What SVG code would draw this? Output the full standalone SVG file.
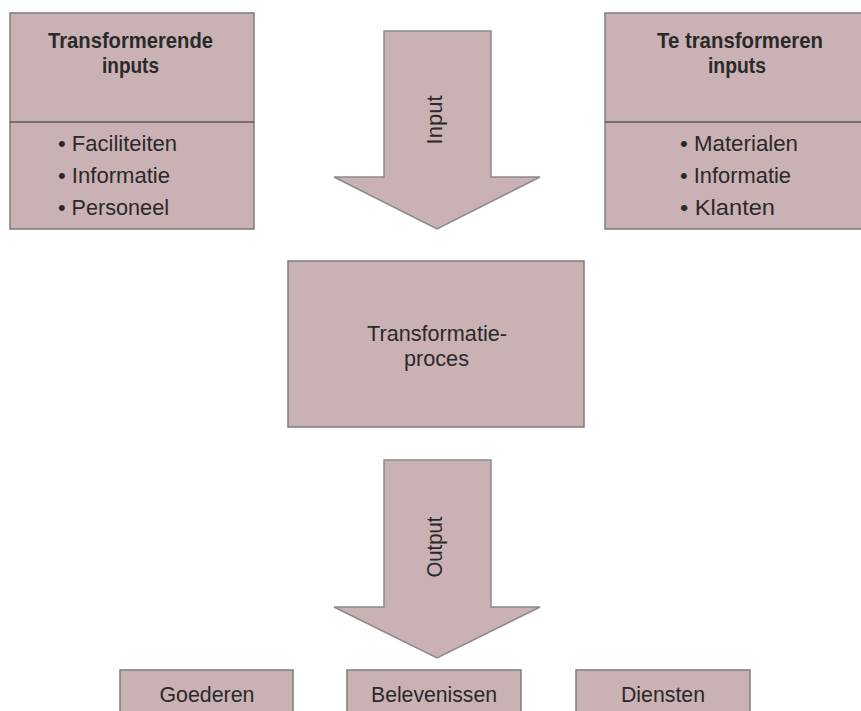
<svg xmlns="http://www.w3.org/2000/svg" width="861" height="711" viewBox="0 0 861 711">
  <style>
    .box { fill: #cab1b3; stroke: #7d7d7d; stroke-width: 1.5; }
    .div { stroke: #5a5a5a; stroke-width: 1.5; }
    .arrow { fill: #cab1b3; stroke: #8a8a8a; stroke-width: 1.5; stroke-linejoin: miter; }
    text { font-family: "Liberation Sans", Arial, sans-serif; font-size: 22px; fill: #2a2a2a; }
    .b { font-weight: bold; }
    .m { text-anchor: middle; }
  </style>
  <rect width="861" height="711" fill="#ffffff"/>

  <g id="connectors">
    <g id="arrow-input">
      <polygon class="arrow" points="384,31 491,31 491,177 540,177 437,229 334,177 384,177"/>
      <text class="m" transform="translate(442,120) rotate(-90)" textLength="49" lengthAdjust="spacingAndGlyphs">Input</text>
    </g>
    <g id="arrow-output">
      <polygon class="arrow" points="384,460 491,460 491,607 540,607 437,658 334,607 384,607"/>
      <text class="m" transform="translate(442,547) rotate(-90)" textLength="61" lengthAdjust="spacingAndGlyphs">Output</text>
    </g>
  </g>

  <g id="transformerende-inputs">
    <rect class="box" x="10" y="13" width="244" height="216"/>
    <line class="div" x1="10" y1="122" x2="254" y2="122"/>
    <text class="b" x="48" y="48" textLength="165" lengthAdjust="spacingAndGlyphs">Transformerende</text>
    <text class="b" x="102" y="73" textLength="57" lengthAdjust="spacingAndGlyphs">inputs</text>
    <text x="58" y="151" textLength="119" lengthAdjust="spacingAndGlyphs">• Faciliteiten</text>
    <text x="58" y="183" textLength="112" lengthAdjust="spacingAndGlyphs">• Informatie</text>
    <text x="58" y="215" textLength="111" lengthAdjust="spacingAndGlyphs">• Personeel</text>
  </g>

  <g id="te-transformeren-inputs">
    <rect class="box" x="605" y="13" width="270" height="216"/>
    <line class="div" x1="605" y1="122" x2="861" y2="122"/>
    <text class="b" x="657" y="48" textLength="166" lengthAdjust="spacingAndGlyphs">Te transformeren</text>
    <text class="b" x="708" y="73" textLength="58" lengthAdjust="spacingAndGlyphs">inputs</text>
    <text x="680" y="151" textLength="118" lengthAdjust="spacingAndGlyphs">• Materialen</text>
    <text x="680" y="183" textLength="111" lengthAdjust="spacingAndGlyphs">• Informatie</text>
    <text x="680" y="215" textLength="95" lengthAdjust="spacingAndGlyphs">• Klanten</text>
  </g>

  <g id="transformatieproces">
    <rect class="box" x="288" y="261" width="296" height="166"/>
    <text x="367" y="341" textLength="140" lengthAdjust="spacingAndGlyphs">Transformatie-</text>
    <text x="404" y="366" textLength="65" lengthAdjust="spacingAndGlyphs">proces</text>
  </g>

  <g id="goederen">
    <rect class="box" x="120" y="670" width="173" height="50"/>
    <text class="m" x="207" y="702" textLength="95" lengthAdjust="spacingAndGlyphs">Goederen</text>
  </g>
  <g id="belevenissen">
    <rect class="box" x="347" y="670" width="174" height="50"/>
    <text class="m" x="434" y="702" textLength="126" lengthAdjust="spacingAndGlyphs">Belevenissen</text>
  </g>
  <g id="diensten">
    <rect class="box" x="576" y="670" width="174" height="50"/>
    <text class="m" x="663" y="702" textLength="84" lengthAdjust="spacingAndGlyphs">Diensten</text>
  </g>
</svg>
